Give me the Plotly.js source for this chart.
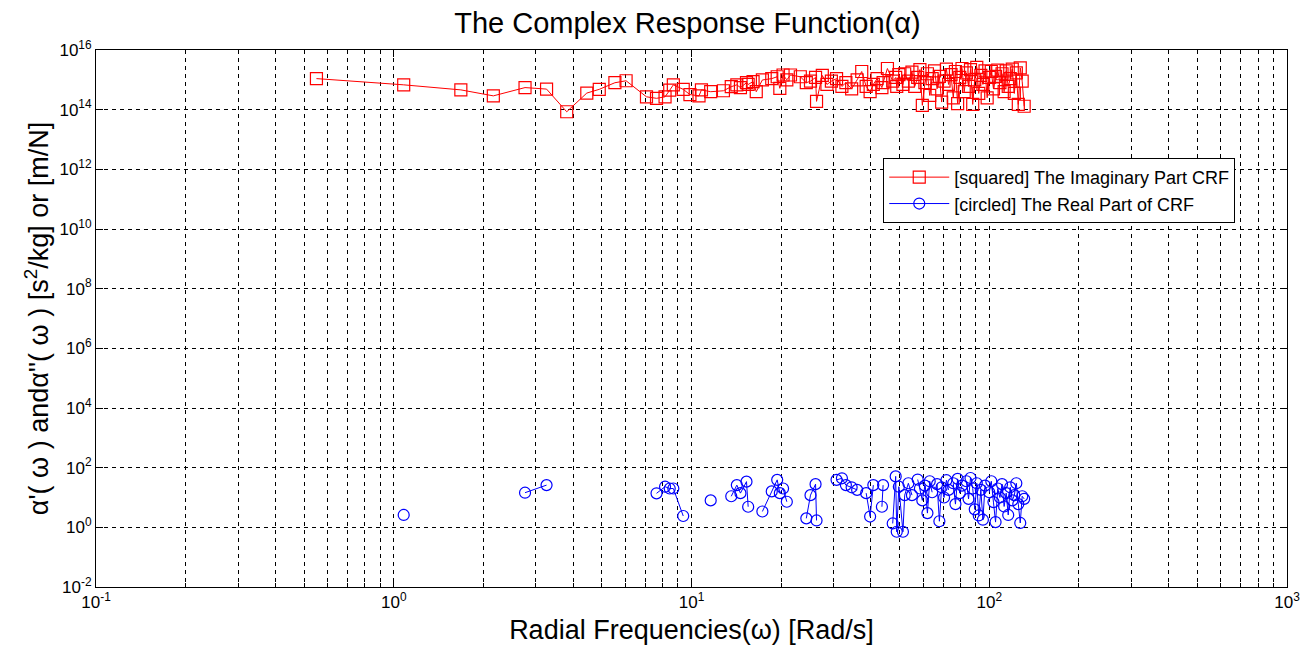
<!DOCTYPE html>
<html>
<head>
<meta charset="utf-8">
<script src="https://cdn.plot.ly/plotly-3.0.1.min.js"></script>
<style>html,body{margin:0;padding:0;background:#fff;}#chart{width:1307px;height:651px;}</style>
</head>
<body>
<div id="chart"></div>
<script>
// Radial frequencies (rad/s), common to both series
const freq = [
  0.55, 1.08, 1.68, 2.16, 2.76, 3.26, 3.81, 4.45, 4.9, 5.53, 6.03, 7.06, 7.63, 8.15, 8.45, 8.69, 9.38, 9.88,
  10.6, 10.8, 11.6, 12.8, 13.6, 14.2, 14.6, 15.3, 15.5, 16.1, 16.5, 17.3, 18.6, 19.4, 19.8, 20.3, 20.9, 21.5,
  23.2, 24.3, 25.1, 26.1, 26.3, 27.5, 28.5, 29.5, 30.7, 32.0, 33.0, 34.5, 36.0, 37.3, 38.6, 39.8, 40.8, 42.0,
  43.6, 44.0, 45.5, 47.4, 48.5, 48.9, 49.7, 51.3, 52.0,
  53.5, 55.0, 56.2, 57.5, 58.5, 59.6, 60.8, 62.0, 63.1, 64.3, 65.5, 66.8, 68.0, 69.2, 70.5, 71.8, 73.0, 74.4,
  75.7, 77.0, 78.3, 79.6, 81.0, 82.4, 83.8, 85.2, 86.5, 88.0, 89.4, 90.8, 92.2, 93.7, 95.2, 96.8, 98.4, 100.0,
  101.6, 103.3, 105.0, 106.8, 108.6, 110.4, 112.2, 114.0, 115.8, 117.6, 119.5, 121.4, 123.3, 125.2, 127.1, 129.0, 131.0
];

// Imaginary part of CRF
const imagPart = [
  1.1e15, 6.8e14, 4.6e14, 2.9e14, 5.5e14, 4.9e14, 8.5e13, 3.6e14, 4.8e14, 8.0e14, 9.3e14, 2.7e14, 2.4e14, 2.7e14, 4.5e14, 6.8e14, 4.8e14, 3.2e14,
  2.9e14, 4.6e14, 4.0e14, 4.3e14, 5.9e14, 6.8e14, 5.5e14, 8.0e14, 7.0e14, 8.7e14, 4.0e14, 9.9e14, 1.1e15, 1.27e15, 5.2e14, 1.45e15, 1.0e15, 1.45e15,
  1.27e15, 8.0e14, 9.0e14, 1.2e15, 1.9e14, 1.4e15, 7.0e14, 9.0e14, 1.1e15, 6.0e14, 8.0e14, 5.0e14, 1.0e15, 1.9e15, 6.0e14, 4.0e14, 7.0e14, 1.1e15,
  5.5e14, 8.0e14, 2.4e15, 9.0e14, 1.2e15, 6.0e14, 1.5e15, 7.0e14, 1.6e15,
  9.0e14, 1.8e15, 6.0e14, 1.2e15, 2.2e15, 1.4e14, 8.0e14, 1.6e15, 3.0e14, 1.1e15, 2.0e15, 5.0e14, 1.3e15, 1.8e14, 9.0e14, 2.3e15, 7.0e14, 1.5e15,
  2.5e14, 1.9e15, 1.6e14, 1.2e15, 2.4e15, 4.0e14, 1.7e15, 6.0e14, 2.2e15, 1.5e14, 1.0e15, 2.6e15, 3.5e14, 1.4e15, 7.0e14, 2.0e15, 2.5e14, 1.2e15,
  1.9e15, 5.0e14, 1.3e15, 2.1e15, 8.0e14, 1.6e15, 4.0e14, 2.0e15, 6.0e14, 1.1e15, 2.3e15, 3.5e14, 1.7e15, 1.5e14, 2.5e15, 9.0e14, 1.3e14
];

// Real part of CRF (null where the value is not positive, so it is not drawn on the log axis)
const realPart = [
  null, 2.6, null, null, 14.5, 26, null, null, null, null, null, null, 13.8, 23, 20, 20, 2.4, null,
  null, null, 8.0, null, 11, 26, 14, 34, 4.9, null, null, 3.4, 16, 39, 14, 20, 7.2, null,
  null, 2.0, 12, 28, 1.7, null, null, null, 39, 44, 26, 22, 18, null, 14, 2.3, 26, null,
  4.9, 26, null, 1.35, 51, 0.71, 23, 0.71, 12,
  30, 12, null, 40, 20, 8, 25, 3.0, 35, 15, null, 28, 1.6, 22, 10, 38, 18, null,
  30, 6, 42, 14, 25, null, 35, 9, 45, 20, 4, 30, 2.5, 18, 1.8, 25, null, 15,
  35, 7, 1.5, 20, 10, 28, 5, 14, 2.6, 22, 8, 12, 30, 6, 1.4, 11, 9
];

const seriesNames = ['[squared] The Imaginary Part CRF', '[circled] The Real Part of CRF'];

const xTickVals = [0.1, 1, 10, 100, 1000];
const xTickText = ['10<sup>-1</sup>', '10<sup>0</sup>', '10<sup>1</sup>', '10<sup>2</sup>', '10<sup>3</sup>'];
const yTickVals = [1e-2, 1e0, 1e2, 1e4, 1e6, 1e8, 1e10, 1e12, 1e14, 1e16];
const yTickText = ['10<sup>-2</sup>', '10<sup>0</sup>', '10<sup>2</sup>', '10<sup>4</sup>', '10<sup>6</sup>',
                   '10<sup>8</sup>', '10<sup>10</sup>', '10<sup>12</sup>', '10<sup>14</sup>', '10<sup>16</sup>'];

// minor decade grid positions (2..9 x 10^k)
const xMinor = [];
for (let k = -1; k < 3; k++) for (let m = 2; m <= 9; m++) xMinor.push(m * Math.pow(10, k));

const FONT = 'Liberation Sans, Arial, sans-serif';
const DASH = '4px,4px';

const traces = [
  {
    x: freq, y: imagPart, name: seriesNames[0], type: 'scatter', mode: 'lines+markers',
    line: {color: '#ff0000', width: 1},
    marker: {symbol: 'square-open', size: 12, color: '#ff0000', line: {width: 1.2, color: '#ff0000'}}
  },
  {
    x: freq, y: realPart, name: seriesNames[1], type: 'scatter', mode: 'lines+markers',
    connectgaps: false,
    line: {color: '#0000ff', width: 1},
    marker: {symbol: 'circle-open', size: 11, color: '#0000ff', line: {width: 1.2, color: '#0000ff'}}
  }
];

const layout = {
  width: 1307, height: 651,
  paper_bgcolor: '#ffffff', plot_bgcolor: '#ffffff',
  margin: {l: 96, r: 20, t: 50, b: 64},
  font: {family: FONT, color: '#000', size: 17},
  title: {
    text: 'The Complex Response Function(α)',
    font: {family: FONT, size: 29, color: '#000'},
    x: 0.526, xanchor: 'center', y: 0.965, yref: 'container', yanchor: 'middle'
  },
  showlegend: true,
  legend: {
    x: 0.661, y: 0.799, xanchor: 'left', yanchor: 'top',
    bgcolor: '#ffffff', bordercolor: '#000', borderwidth: 1,
    font: {family: FONT, size: 18, color: '#000'},
    itemwidth: 60, tracegroupgap: 0
  },
  xaxis: {
    type: 'log', range: [-1, 3],
    tickvals: xTickVals, ticktext: xTickText,
    tickfont: {family: FONT, size: 17, color: '#000'},
    ticks: 'inside', ticklen: 7, tickcolor: '#000',
    showline: true, linecolor: '#000', linewidth: 1, mirror: 'ticks',
    showgrid: true, gridcolor: '#000', gridwidth: 1, griddash: DASH,
    minor: {tickvals: xMinor, showgrid: true, gridcolor: '#000', gridwidth: 1, griddash: DASH,
            ticks: 'inside', ticklen: 4, tickcolor: '#000'},
    zeroline: false, automargin: false,
    title: {text: 'Radial Frequencies(ω) [Rad/s]', font: {family: FONT, size: 27, color: '#000'}, standoff: 8}
  },
  yaxis: {
    type: 'log', range: [-2, 16],
    tickvals: yTickVals, ticktext: yTickText,
    tickfont: {family: FONT, size: 17, color: '#000'},
    ticks: 'inside', ticklen: 7, tickcolor: '#000',
    showline: true, linecolor: '#000', linewidth: 1, mirror: 'ticks',
    showgrid: true, gridcolor: '#000', gridwidth: 1, griddash: DASH,
    zeroline: false, automargin: false,
    title: {text: "α'( ω ) andα''( ω ) [s<sup>2</sup>/kg] or [m/N]", font: {family: FONT, size: 27, color: '#000'}, standoff: 2}
  }
};

Plotly.newPlot('chart', traces, layout, {displayModeBar: false, responsive: false});
</script>
</body>
</html>
